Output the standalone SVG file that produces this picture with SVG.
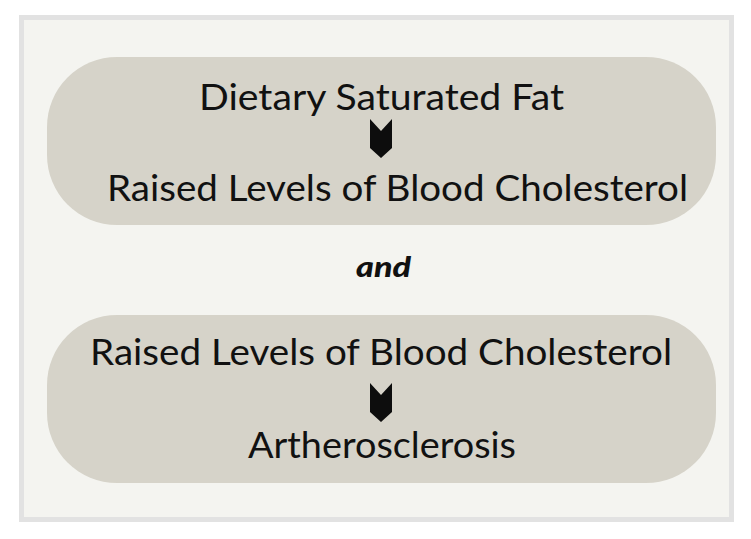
<svg xmlns="http://www.w3.org/2000/svg" width="751" height="539" viewBox="0 0 751 539">
<style>
.pill{fill:#d6d3c9}
.t{font-family:"Lato","Liberation Sans",sans-serif;font-size:37px;font-weight:400;fill:#111111}
.and{font-family:"Lato","Liberation Sans",sans-serif;font-size:28px;font-weight:900;font-style:italic;fill:#111111}
.chev{fill:#0d0d0d}
</style>
<defs>
<path id="chevron" d="M-11,0 L0,12 L11,0 L11,29 L0,39 L-11,29 Z"/>
</defs>
<rect x="0" y="0" width="751" height="539" fill="#ffffff"/>
<rect id="frame" x="21.5" y="17.5" width="710" height="502" fill="#f4f4f0" stroke="#e2e2e2" stroke-width="5"/>
<g id="node-top">
<rect class="pill" x="47" y="57" width="669" height="168" rx="70" ry="70"/>
<text class="t" x="199" y="110" textLength="365" lengthAdjust="spacingAndGlyphs">Dietary Saturated Fat</text>
<text class="t" x="107" y="201" textLength="581" lengthAdjust="spacingAndGlyphs">Raised Levels of Blood Cholesterol</text>
</g>
<g id="node-and">
<text class="and" x="356" y="277" textLength="55" lengthAdjust="spacingAndGlyphs">and</text>
</g>
<g id="node-bottom">
<rect class="pill" x="47" y="315" width="669" height="168" rx="70" ry="70"/>
<text class="t" x="90" y="365" textLength="582" lengthAdjust="spacingAndGlyphs">Raised Levels of Blood Cholesterol</text>
<text class="t" x="248" y="458" textLength="268" lengthAdjust="spacingAndGlyphs">Artherosclerosis</text>
</g>
<g id="connectors">
<use href="#chevron" class="chev" x="381" y="119"/>
<use href="#chevron" class="chev" x="381" y="383"/>
</g>
</svg>
